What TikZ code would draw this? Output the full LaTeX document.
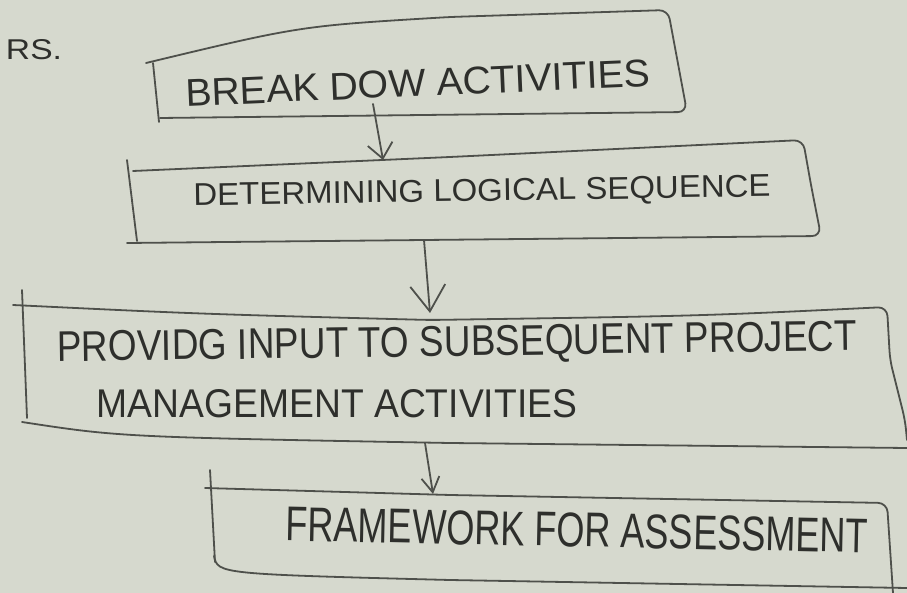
\documentclass[tikz,border=0pt]{standalone}
\usepackage{fontspec}
\usepackage{graphicx}
\setmainfont{Liberation Sans}
\usetikzlibrary{arrows.meta}
\definecolor{paper}{HTML}{D6D9CE}
\definecolor{ink}{HTML}{2E2F2C}
\definecolor{pen}{HTML}{4E504B}
\tikzset{
  boxline/.style={draw=pen, line width=1.8pt, line cap=round, line join=round},
  hand/.style={text=ink, inner sep=0pt},
  arr/.style={draw=pen, line width=1.8pt, line cap=round}
}
\newcommand{\hw}[3]{\resizebox{#1pt}{#2pt}{#3}}
\begin{document}
\begin{tikzpicture}[x=1pt,y=-1pt]
\useasboundingbox (0,0) rectangle (907,593);
\fill[paper] (0,0) rectangle (907,593);

% label
\node[hand] (rs) at (34,50) {\hw{56}{20}{RS.}};

% box 1
\draw[boxline, rounded corners=9pt] (146,63) .. controls (300,26) .. (450,17) -- (668,10) -- (687,112) -- (160,118);
\draw[boxline] (153,63) -- (159,122);
\node[hand, rotate=2.5] (t1) at (418,83) {\hw{465}{27}{BREAK DOW ACTIVITIES}};

% box 2
\draw[boxline, rounded corners=9pt] (133,171) -- (450,157) -- (803,140) -- (811,185) -- (821,236) -- (127,243);
\draw[boxline] (127,160) -- (137,241);
\node[hand, rotate=0.9] (t2) at (482,193) {\hw{577}{22}{DETERMINING LOGICAL SEQUENCE}};

% box 3
\draw[boxline, rounded corners=9pt] (13,305) .. controls (200,314) .. (430,320) .. controls (700,316) .. (887,307) -- (890,360) -- (905,420) -- (907,440);
\draw[boxline] (22,422) .. controls (120,437) .. (450,443) -- (907,448);
\draw[boxline] (22,290) -- (27,418);
\node[hand, rotate=0.8] (t3a) at (457,345) {\hw{800}{30}{PROVIDG INPUT TO SUBSEQUENT PROJECT}};
\node[hand] (t3b) at (337,404) {\hw{480}{28}{MANAGEMENT ACTIVITIES}};

% box 4
\draw[boxline, rounded corners=9pt] (205,488) -- (450,495) -- (887,503) -- (893,593);
\draw[boxline] (214,556) .. controls (218,574) .. (450,580) -- (907,588);
\draw[boxline] (210,470) -- (215,562);
\node[hand, rotate=-1.2] (t4) at (577,530) {\hw{582}{34}{FRAMEWORK FOR ASSESSMENT}};

% connectors
\coordinate (a1s) at (373,104);
\coordinate (a1e) at (383,160);
\coordinate (a2s) at (424,240);
\coordinate (a2e) at (430,313);
\coordinate (a3s) at (425,443);
\coordinate (a3e) at (433,494);
\draw[arr, -{Straight Barb[length=15pt,width=25pt]}] (a1s) -- (a1e);
\draw[arr, -{Straight Barb[length=26pt,width=35pt]}] (a2s) -- (a2e);
\draw[arr, -{Straight Barb[length=15pt,width=18pt]}] (a3s) -- (a3e);
\end{tikzpicture}
\end{document}
